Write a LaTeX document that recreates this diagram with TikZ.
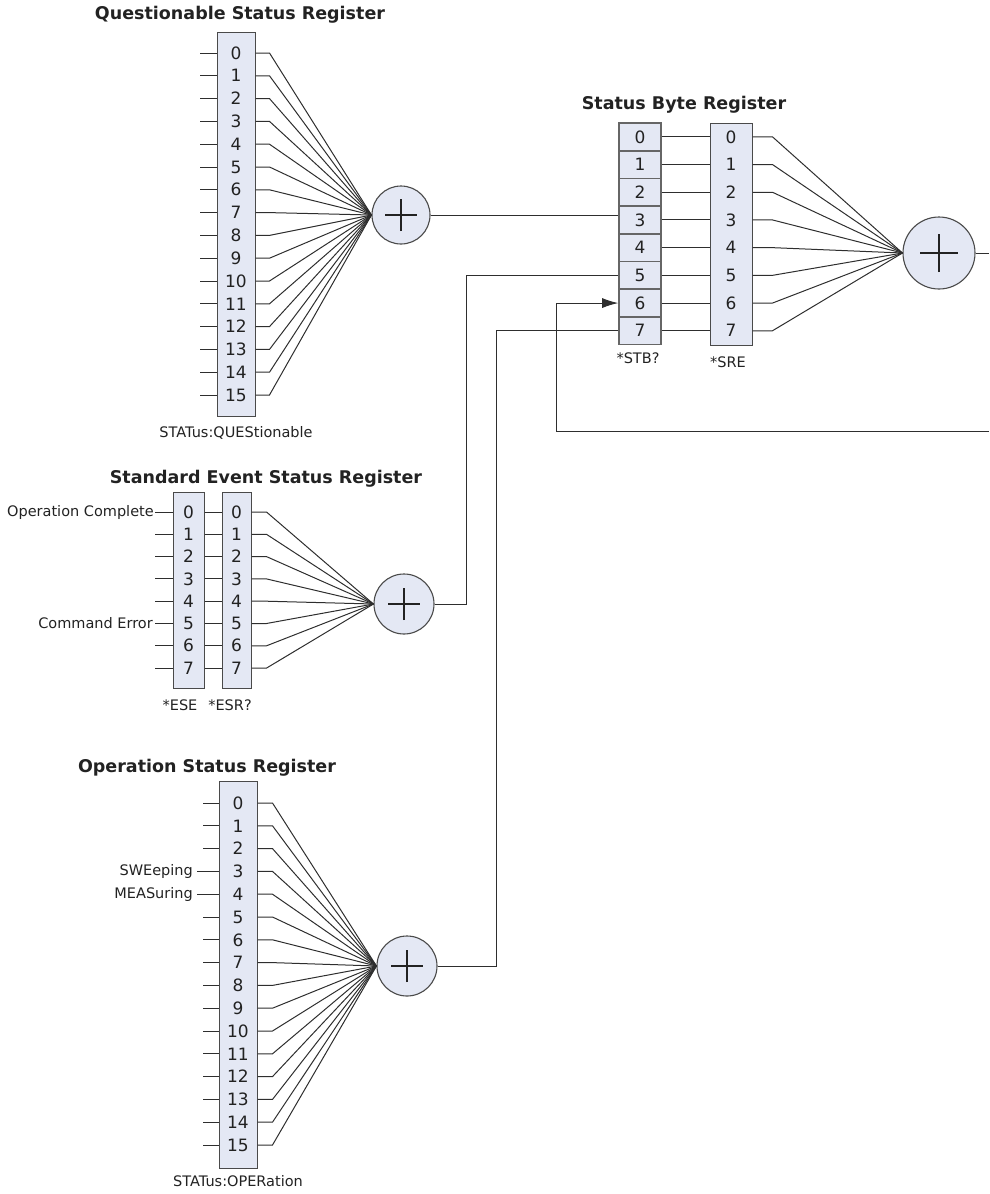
\documentclass[tikz,border=0pt]{standalone}
\usepackage{fontspec}
\setmainfont{DejaVu Sans}
\usetikzlibrary{arrows.meta}
\definecolor{boxc}{HTML}{E4E8F4}
\definecolor{linec}{HTML}{2E2E2E}
\definecolor{boxline}{HTML}{4A4A4A}
\definecolor{txtc}{HTML}{222222}
\begin{document}
\begin{tikzpicture}[x=1pt,y=-1pt,
  wire/.style={draw=linec, line width=1pt},
  regbox/.style={draw=boxline, fill=boxc, line width=1pt, inner sep=0pt, rectangle},
  cellbox/.style={regbox, draw=black!60, line width=1.6pt, minimum width=42pt, minimum height=27.7pt, font=\fontsize{17}{17}\selectfont, text=txtc},
  dig/.style={font=\fontsize{17}{17}\selectfont, text=txtc, inner sep=0pt},
  lbl/.style={font=\fontsize{14.5}{15}\selectfont, text=txtc, inner sep=0pt},
  ttl/.style={font=\bfseries\fontsize{17.5}{18}\selectfont, text=txtc, inner sep=0pt},
  sumc/.style={circle, draw=boxline, fill=boxc, line width=1.1pt, inner sep=0pt},
  plusbar/.style={draw=txtc, line width=1.3pt}
]
\useasboundingbox (0,0) rectangle (989,1194);

% ---------- Questionable Status Register ----------
\node[ttl] (qt) at (240,15) {Questionable Status Register};
\node[regbox, minimum width=38pt, minimum height=384pt] (qreg) at (236,224) {};
\node[sumc, minimum size=58pt] (qsum) at (401,215) {};
\draw[plusbar] ([xshift=-16pt]qsum.center) -- ([xshift=16pt]qsum.center);
\draw[plusbar] ([yshift=-16pt]qsum.center) -- ([yshift=16pt]qsum.center);
\foreach \i in {0,...,15} {
  \pgfmathsetmacro\yy{53+22.8*\i}
  \node[dig] (q\i) at (236,\yy) {\i};
  \coordinate (qi\i) at (200,\yy);
  \draw[wire] (qi\i) -- (qi\i -| qreg.west);
  \draw[wire] (qi\i -| qreg.east) -- ++(14,0) -- (qsum.west);
}
\node[lbl] (ql) at (236,433) {STATus:QUEStionable};

% ---------- Standard Event Status Register ----------
\node[ttl] (et) at (266,479) {Standard Event Status Register};
\node[regbox, minimum width=31pt, minimum height=196pt] (ese) at (188.5,590) {};
\node[regbox, minimum width=29pt, minimum height=196pt] (esr) at (236.5,590) {};
\node[sumc, minimum size=60pt] (esum) at (404,604) {};
\draw[plusbar] ([xshift=-16pt]esum.center) -- ([xshift=16pt]esum.center);
\draw[plusbar] ([yshift=-16pt]esum.center) -- ([yshift=16pt]esum.center);
\foreach \i in {0,...,7} {
  \pgfmathsetmacro\yy{512+22.3*\i}
  \node[dig] (ea\i) at (188.5,\yy) {\i};
  \node[dig] (eb\i) at (236.5,\yy) {\i};
  \coordinate (ei\i) at (155,\yy);
  \draw[wire] (ei\i) -- (ei\i -| ese.west);
  \draw[wire] (ei\i -| ese.east) -- (ei\i -| esr.west);
  \draw[wire] (ei\i -| esr.east) -- ++(15,0) -- (esum.west);
}
\node[lbl, anchor=east] (opc) at ([xshift=-1pt]ei0) {Operation Complete};
\node[lbl, anchor=east] (cme) at ([xshift=-2pt]ei5) {Command Error};
\node[lbl] (esel) at (180,705) {*ESE};
\node[lbl] (esrl) at (230,705) {*ESR?};

% ---------- Operation Status Register ----------
\node[ttl] (ot) at (207,768) {Operation Status Register};
\node[regbox, minimum width=38pt, minimum height=387pt] (oreg) at (238,974.5) {};
\node[sumc, minimum size=60pt] (osum) at (407,966) {};
\draw[plusbar] ([xshift=-16pt]osum.center) -- ([xshift=16pt]osum.center);
\draw[plusbar] ([yshift=-16pt]osum.center) -- ([yshift=16pt]osum.center);
\foreach \i in {0,...,15} {
  \pgfmathsetmacro\yy{803+22.8*\i}
  \node[dig] (o\i) at (238,\yy) {\i};
  \ifnum\i=3 \coordinate (oi\i) at (197,\yy);
  \else\ifnum\i=4 \coordinate (oi\i) at (197,\yy);
  \else \coordinate (oi\i) at (203,\yy);\fi\fi
  \draw[wire] (oi\i) -- (oi\i -| oreg.west);
  \draw[wire] (oi\i -| oreg.east) -- ++(15,0) -- (osum.west);
}
\node[lbl, anchor=east] (swe) at ([xshift=-4pt]oi3) {SWEeping};
\node[lbl, anchor=east] (mea) at ([xshift=-4pt]oi4) {MEASuring};
\node[lbl] (ol) at (238,1181) {STATus:OPERation};

% ---------- Status Byte Register ----------
\node[ttl] (st) at (684,105) {Status Byte Register};
\node[regbox, minimum width=42pt, minimum height=222pt] (sre) at (731,234) {};
\node[sumc, minimum size=72pt] (ssum) at (939,253) {};
\draw[plusbar] ([xshift=-19pt]ssum.center) -- ([xshift=19pt]ssum.center);
\draw[plusbar] ([yshift=-19pt]ssum.center) -- ([yshift=19pt]ssum.center);
\foreach \i in {0,...,7} {
  \pgfmathsetmacro\yy{136.85+27.7*\i}
  \node[cellbox] (stb\i) at (640,\yy) {\i};
  \node[dig] (s\i) at (731,\yy) {\i};
  \draw[wire] (stb\i.east) -- (stb\i.east -| sre.west);
  \draw[wire] (stb\i.east -| sre.east) -- ++(20,0) -- (ssum.west);
}
\node[lbl] (stbl) at (638,358) {*STB?};
\node[lbl] (srel) at (728,362) {*SRE};

\coordinate (outR) at (989,253);
\coordinate (loopR) at (989,431);
\draw[wire] (ssum.east) -- (outR);
\draw[wire, -{Latex[length=16pt,width=10pt]}] (loopR) -| ([xshift=-62pt]stb6.west) -- (stb6.west);

% connections into the Status Byte Register
\draw[wire] (qsum.east) -- (qsum.east -| stb3.west);
\draw[wire] (esum.east) -| ([xshift=-152pt]stb5.west) -- (stb5.west);
\draw[wire] (osum.east) -| ([xshift=-122pt]stb7.west) -- (stb7.west);
\end{tikzpicture}
\end{document}
